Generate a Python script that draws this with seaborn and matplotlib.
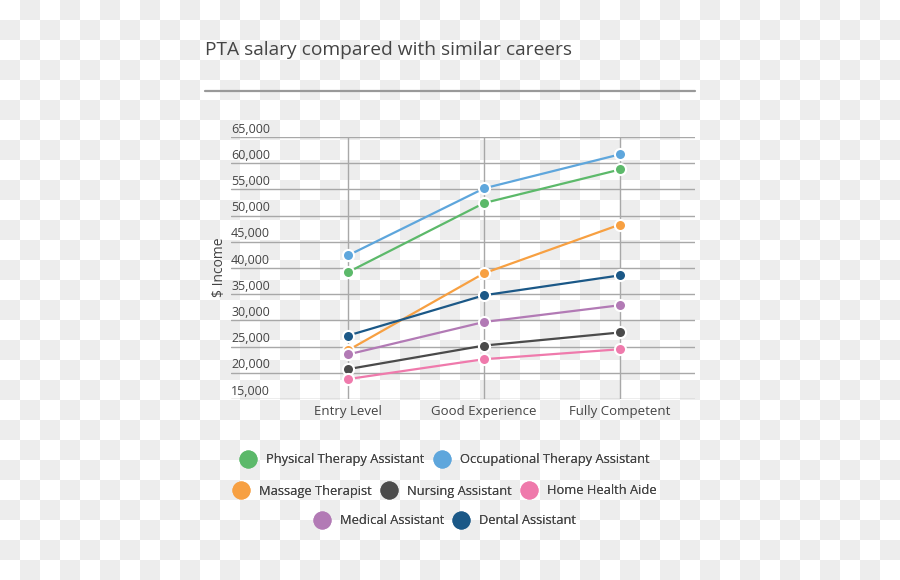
import numpy as np
import pandas as pd
import matplotlib
matplotlib.use("Agg")
import matplotlib.pyplot as plt
import matplotlib.transforms as mtransforms
from matplotlib.lines import Line2D
import seaborn as sns

# ---- data ----
levels = ["Entry Level", "Good Experience", "Fully Competent"]
careers = ["Physical Therapy Assistant", "Occupational Therapy Assistant",
           "Massage Therapist", "Nursing Assistant", "Home Health Aide",
           "Medical Assistant", "Dental Assistant"]
physical_therapy = [39200, 52400, 58800]
occupational_therapy = [42400, 55200, 61700]
massage_therapist = [24300, 39000, 48300]
nursing_assistant = [20700, 25200, 27700]
home_health_aide = [18800, 22600, 24500]
medical_assistant = [23500, 29700, 32900]
dental_assistant = [27100, 34800, 38600]
series = [physical_therapy, occupational_therapy, massage_therapist,
          nursing_assistant, home_health_aide, medical_assistant, dental_assistant]
colors = ["#5cb96a", "#5ea6dc", "#f7a042", "#4a4a4a", "#ef7aac", "#b27ab5", "#1b5887"]
y_ticks = list(range(15000, 65001, 5000))
title = "PTA salary compared with similar careers"
y_label = "$ Income"

rows = []
for name, vals in zip(careers, series):
    for lvl, v in zip(levels, vals):
        rows.append({"Level": lvl, "Career": name, "Income": v})
df = pd.DataFrame(rows)
palette = dict(zip(careers, colors))

sns.set_style("white")
plt.rcParams["font.family"] = ["Open Sans", "DejaVu Sans"]
TXT = "#444444"

W, H = 900, 580
fig = plt.figure(figsize=(W / 100, H / 100), dpi=100)
fig.patch.set_facecolor("white")

# transparency checkerboard backdrop
yy, xx = np.mgrid[0:H, 0:W]
checker = ((xx // 20 + yy // 20) % 2).astype(float)
img = np.ones((H, W, 3))
img[checker == 1] = np.array([0xed, 0xed, 0xed]) / 255.0
fig.figimage(img, xo=0, yo=0, origin="upper", zorder=-5)

ax = fig.add_axes([231 / W, 1 - 399 / H, (695 - 231) / W, (399 - 137) / H])
ax.set_zorder(2)
ax.set_facecolor("none")
ax.patch.set_alpha(0)

sns.lineplot(data=df, x="Level", y="Income", hue="Career", hue_order=careers,
             palette=palette, marker="o", markersize=8, markeredgecolor="white",
             markeredgewidth=1.5, linewidth=1.6, sort=False, legend=False, ax=ax,
             zorder=3)

ax.set_xlim(-0.86, 2.55)
ax.set_ylim(15000, 65000)
for s in ax.spines.values():
    s.set_visible(False)
ax.set_yticks(y_ticks)
ax.set_yticklabels([])
ax.tick_params(axis="both", length=0)
ax.tick_params(axis="x", pad=4, labelsize=9.5, labelcolor=TXT)
ax.set_xlabel("")
ax.set_ylabel("")
ax.grid(True, axis="y", color="#a8a8a8", linewidth=1)
ax.grid(True, axis="x", color="#a8a8a8", linewidth=1)
ax.set_axisbelow(True)

trans = mtransforms.blended_transform_factory(ax.transAxes, ax.transData)
trans = trans + mtransforms.ScaledTranslation(0, 1 / 72, fig.dpi_scale_trans)
for v in y_ticks:
    ax.text(0, v, f"{v:,}", transform=trans, ha="left", va="bottom",
            fontsize=9, color=TXT)

fig.text(219 / W, 1 - 267 / H, y_label, rotation=90, ha="center", va="center",
         fontsize=10, color=TXT)

fig.text(205 / W, 1 - 50 / H, title, ha="left", va="center", fontsize=13.8, color=TXT)
fig.add_artist(Line2D([205 / W, 695 / W], [1 - 91 / H] * 2, color="#999999", lw=1.6))

def handle(name):
    return Line2D([], [], marker="o", linestyle="", color=palette[name],
                  markersize=12)

row_groups = [careers[0:2], careers[2:5], careers[5:7]]
row_y = [460, 491, 521]
for grp, yp in zip(row_groups, row_y):
    leg = fig.legend([handle(n) for n in grp], grp, loc="center",
                     bbox_to_anchor=(445 / W, 1 - yp / H), ncol=len(grp),
                     frameon=False, fontsize=9.3, handlelength=1.2,
                     handletextpad=0.8, columnspacing=0.7, labelcolor=TXT,
                     borderpad=0, borderaxespad=0)
    fig.add_artist(leg)

fig.savefig("out.png", dpi=100)
